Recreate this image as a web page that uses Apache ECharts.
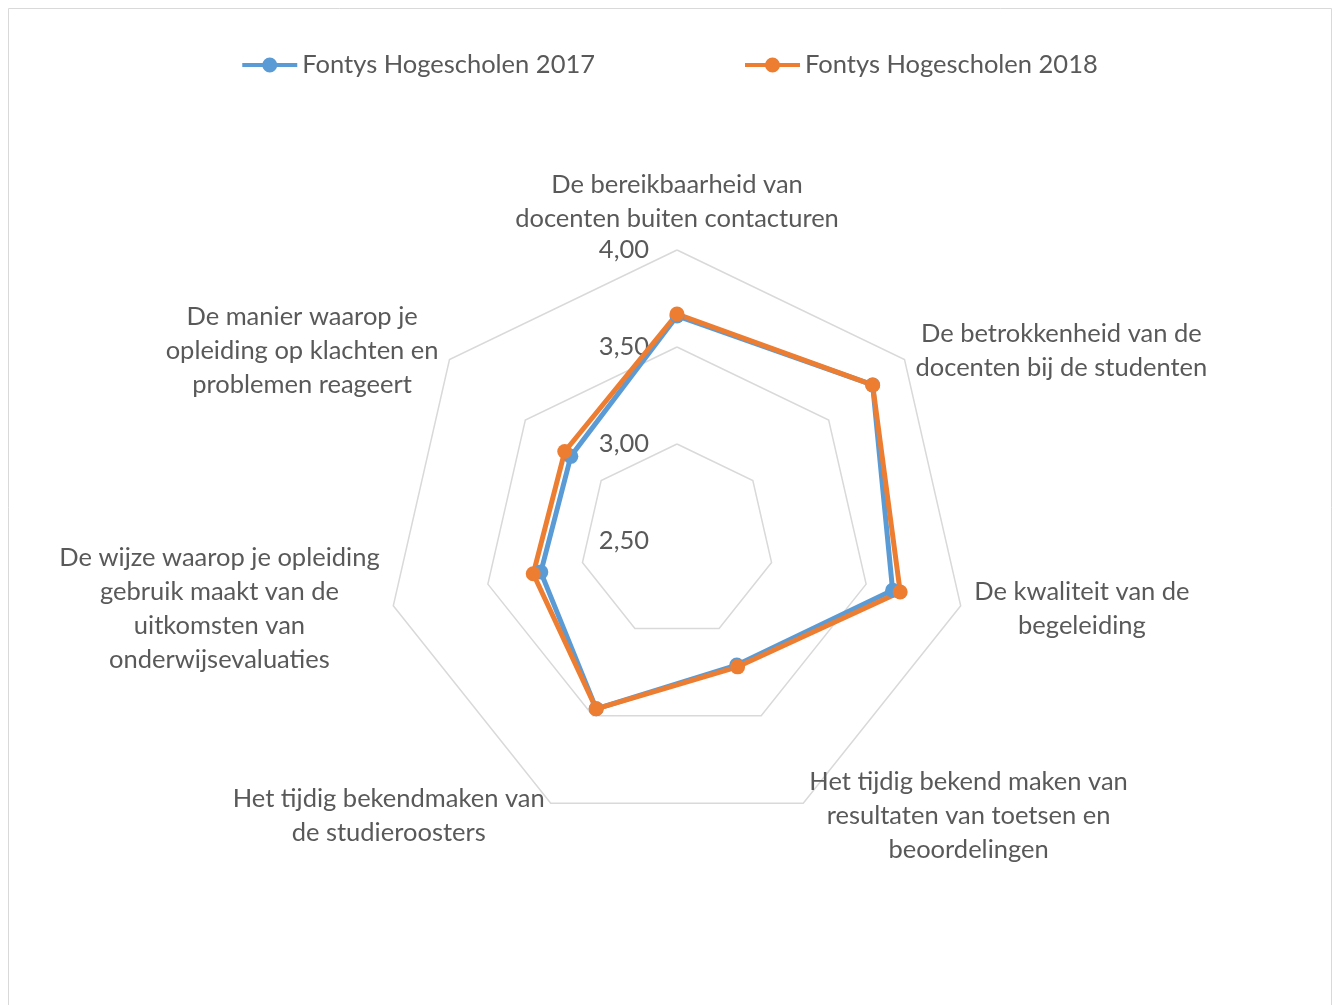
<!DOCTYPE html>
<html>
<head>
<meta charset="utf-8">
<script src="https://cdn.jsdelivr.net/npm/echarts@6/dist/echarts.min.js"></script>
<style>
  html, body { margin: 0; padding: 0; background: #fff; }
  #chart { width: 1340px; height: 1005px; }
</style>
</head>
<body>
<div id="chart"></div>
<script>
// categories in clockwise order, starting at the top
var categories = [
    'De bereikbaarheid van\ndocenten buiten contacturen',
    'De betrokkenheid van de\ndocenten bij de studenten',
    'De kwaliteit van de\nbegeleiding',
    'Het tijdig bekend maken van\nresultaten van toetsen en\nbeoordelingen',
    'Het tijdig bekendmaken van\nde studieroosters',
    'De wijze waarop je opleiding\ngebruik maakt van de\nuitkomsten van\nonderwijsevaluaties',
    'De manier waarop je\nopleiding op klachten en\nproblemen reageert'
];
var seriesNames = ['Fontys Hogescholen 2017', 'Fontys Hogescholen 2018'];
var values2017 = [3.66, 3.79, 3.64, 3.21, 3.46, 3.22, 3.20];
var values2018 = [3.67, 3.79, 3.68, 3.22, 3.46, 3.26, 3.24];
var axisMin = 2.5, axisMax = 4.0;

var font = 'Lato';
var fontSize = 25.5;
var textColor = '#595959';

// echarts puts indicators counterclockwise, so flip the order
function ccw(arr) {
    return [arr[0]].concat(arr.slice(1).reverse());
}

var indicators = ccw(categories).map(function (c, i) {
    var ind = { name: c, min: axisMin, max: axisMax };
    if (i === 0) {
        ind.axisLabel = {
            show: true,
            color: textColor,
            fontFamily: font,
            fontSize: fontSize,
            margin: 28,
            formatter: function (v) { return v.toFixed(2).replace('.', ','); }
        };
    }
    return ind;
});

var legendIcon = 'path://M0,5.5 L55,5.5 L55,9.5 L0,9.5 Z M20,7.5 A7.5,7.5 0 1 1 35,7.5 A7.5,7.5 0 1 1 20,7.5 Z';

var myChart = echarts.init(document.getElementById('chart'));
var option = {
    animation: false,
    color: ['#5b9bd5', '#ed7d31'],
    graphic: [{
        type: 'rect',
        shape: { x: 8.5, y: 8.5, width: 1323, height: 1000 },
        style: { fill: 'none', stroke: '#d9d9d9', lineWidth: 1 },
        silent: true
    }],
    legend: {
        top: 47,
        left: 'center',
        itemGap: 150,
        itemWidth: 55,
        itemHeight: 15,
        icon: legendIcon,
        textStyle: { color: textColor, fontFamily: font, fontSize: fontSize },
        data: seriesNames
    },
    radar: {
        center: [677, 541],
        radius: 291,
        shape: 'polygon',
        splitNumber: 3,
        indicator: indicators,
        axisNameGap: 14,
        axisName: {
            color: textColor,
            fontFamily: font,
            fontSize: fontSize,
            lineHeight: 34,
            formatter: function (name) {
                return name.split('\n').map(function (l) { return '{c|' + l + '}'; }).join('\n');
            },
            rich: {
                c: { align: 'center', color: textColor, fontFamily: font, fontSize: fontSize, lineHeight: 34 }
            }
        },
        axisLine: { show: false },
        axisTick: { show: false },
        splitArea: { show: false },
        splitLine: { lineStyle: { color: '#d9d9d9', width: 1.5 } }
    },
    series: [{
        type: 'radar',
        symbol: 'circle',
        symbolSize: 15,
        lineStyle: { width: 5 },
        data: [
            { name: seriesNames[0], value: ccw(values2017) },
            { name: seriesNames[1], value: ccw(values2018) }
        ]
    }]
};
myChart.setOption(option);
</script>
</body>
</html>
